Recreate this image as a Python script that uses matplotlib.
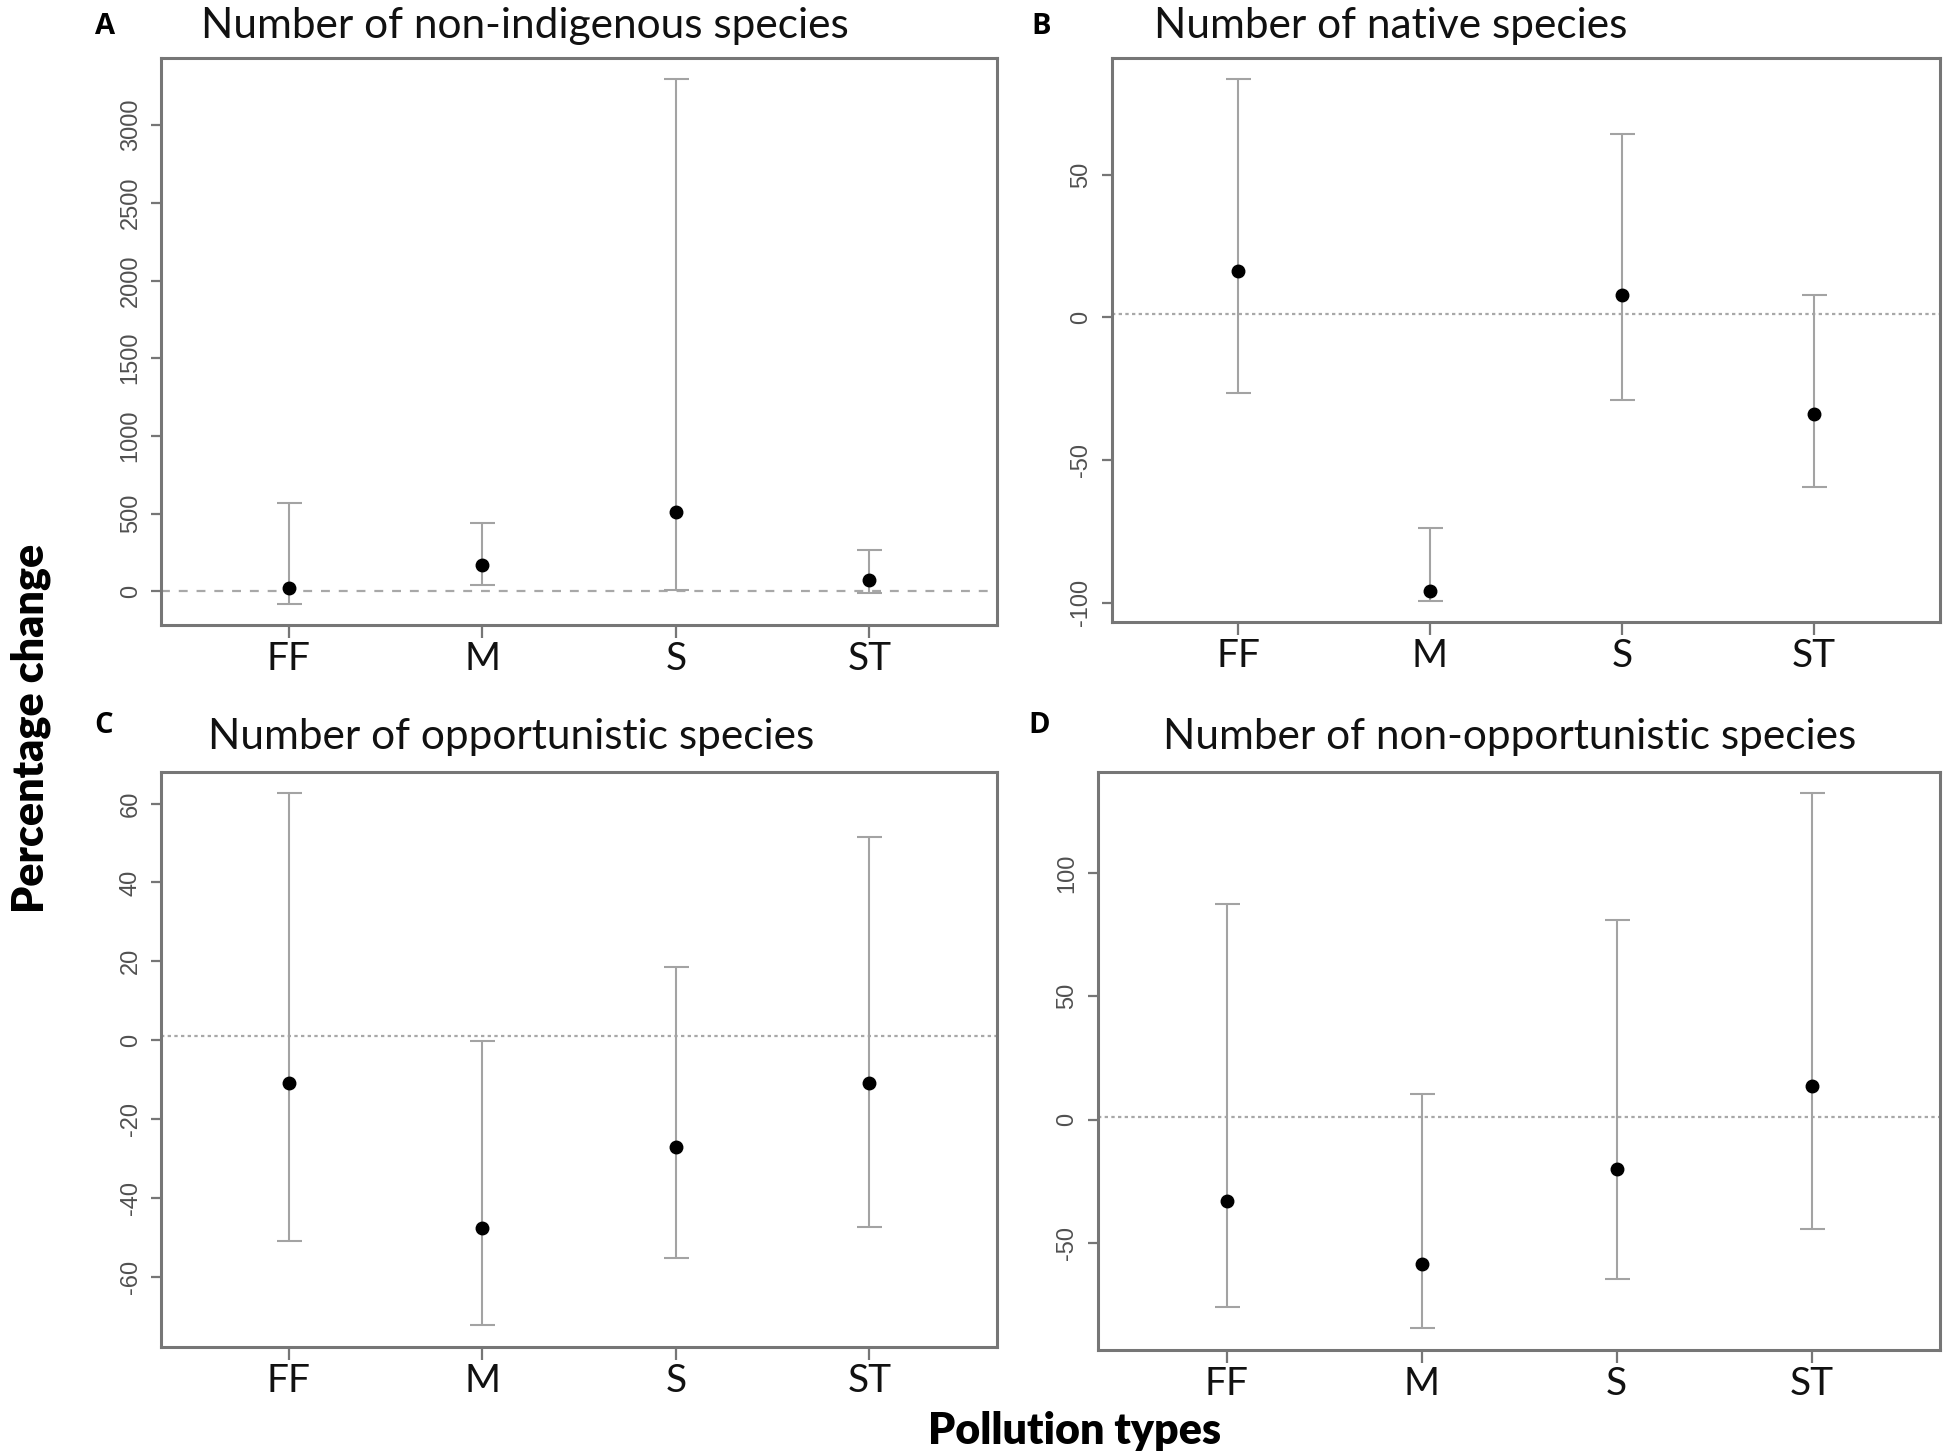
import numpy as np
import matplotlib
matplotlib.use("Agg")
import matplotlib.pyplot as plt

# --- data (mean and interval per pollution type) ---
pollution_types = ["FF", "M", "S", "ST"]

nis_mean = [21, 171, 510, 74]
nis_low = [-79, 39, 8, -13]
nis_high = [571, 439, 3295, 263]

native_mean = [16.2, -96.0, 7.7, -34.0]
native_low = [-26.4, -99.4, -28.9, -59.5]
native_high = [83.5, -73.9, 64.2, 7.7]

opp_mean = [-10.9, -47.6, -27.2, -10.9]
opp_low = [-50.9, -72.4, -55.2, -47.5]
opp_high = [62.7, -0.3, 18.6, 51.6]

nonopp_mean = [-32.8, -58.6, -19.9, 13.6]
nonopp_low = [-75.9, -84.5, -64.6, -44.2]
nonopp_high = [87.5, 10.3, 80.9, 132.3]

nis_ticks = [0, 500, 1000, 1500, 2000, 2500, 3000]
native_ticks = [-100, -50, 0, 50]
opp_ticks = [-60, -40, -20, 0, 20, 40, 60]
nonopp_ticks = [-50, 0, 50, 100]

ref_level = 1

panels = [
    # letter, title, mean, low, high, ticks, axes rect, letter pos, title pos, ref dash
    ("A", "Number of non-indigenous species", nis_mean, nis_low, nis_high, nis_ticks,
     [0.0826, 0.571, 0.4287, 0.389], (0.054, 0.982), (0.269, 0.982), (0, (4, 4))),
    ("B", "Number of native species", native_mean, native_low, native_high, native_ticks,
     [0.570, 0.573, 0.425, 0.387], (0.534, 0.982), (0.713, 0.982), (0, (1.5, 1.5))),
    ("C", "Number of opportunistic species", opp_mean, opp_low, opp_high, opp_ticks,
     [0.0826, 0.075, 0.4287, 0.395], (0.053, 0.502), (0.262, 0.494), (0, (1.5, 1.5))),
    ("D", "Number of non-opportunistic species", nonopp_mean, nonopp_low, nonopp_high, nonopp_ticks,
     [0.563, 0.073, 0.432, 0.397], (0.533, 0.502), (0.774, 0.494), (0, (1.5, 1.5))),
]

fig = plt.figure(figsize=(19.5, 14.56), dpi=100)
fig.patch.set_facecolor("white")

x = np.arange(1, len(pollution_types) + 1)
frame_col = "#767676"
bar_col = "#a3a3a3"

for letter, title, mean, low, high, ticks, rect, lpos, tpos, dash in panels:
    ax = fig.add_axes(rect)
    mean = np.array(mean)
    low = np.array(low)
    high = np.array(high)

    ax.errorbar(x, mean, yerr=[mean - low, high - mean], fmt="none",
                ecolor=bar_col, elinewidth=1.5, capsize=9, capthick=1.5, zorder=2)
    ax.plot(x, mean, "o", color="black", markersize=9, zorder=3)
    ax.axhline(ref_level, color="#a8a8a8", linewidth=1.6, linestyle=dash, zorder=1)

    # R-style axis extension: 4% of the data range on each side
    span = high.max() - low.min()
    ax.set_ylim(low.min() - 0.04 * span, high.max() + 0.04 * span)
    ax.set_xlim(0.5 - 0.16, 4.5 + 0.16)

    ax.set_xticks(x)
    ax.set_xticklabels(pollution_types, fontsize=28, family="Lato", color="#111111")
    ax.set_yticks(ticks)
    ax.set_yticklabels([str(t) for t in ticks], rotation=90, va="center",
                       fontsize=17, family="Liberation Sans", color="#505050")
    ax.tick_params(axis="x", length=9, width=1.6, color=frame_col, pad=3)
    ax.tick_params(axis="y", length=7, width=1.6, color=frame_col, pad=7)
    for s in ax.spines.values():
        s.set_color(frame_col)
        s.set_linewidth(2.2)

    fig.text(lpos[0], lpos[1], letter, fontsize=21, fontweight="bold",
             family="Open Sans", ha="center", va="center")
    fig.text(tpos[0], tpos[1], title, fontsize=30.5, family="Lato",
             ha="center", va="center", color="#111111")

fig.text(0.016, 0.50, "Percentage change", rotation=90, fontsize=31,
         fontweight="heavy", family="Lato", ha="center", va="center")
fig.text(0.551, 0.017, "Pollution types", fontsize=31, fontweight="heavy",
         family="Lato", ha="center", va="center")

fig.savefig("out.png", dpi=100)
